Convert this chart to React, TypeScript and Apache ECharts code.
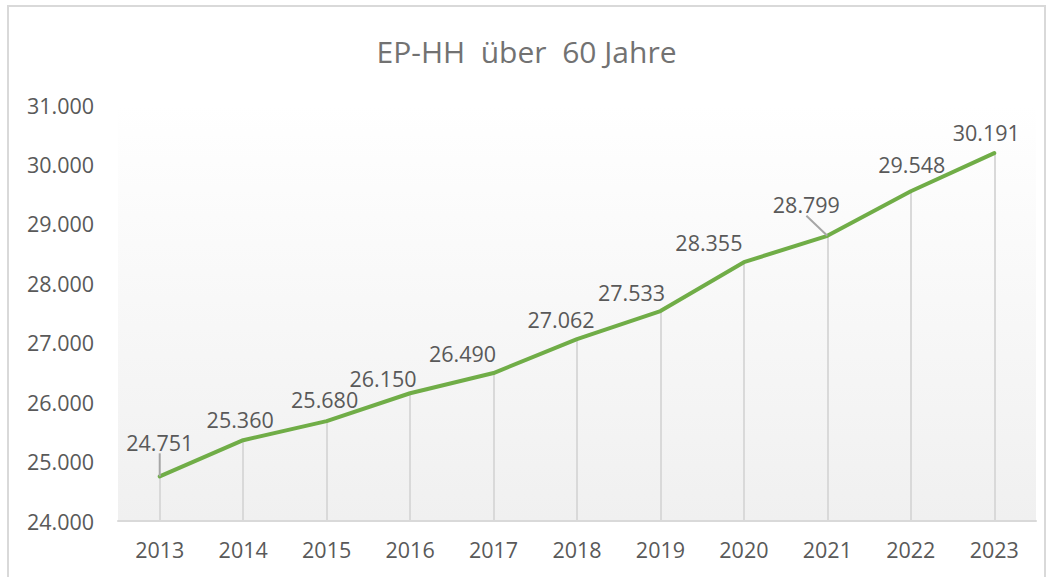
import React, { useEffect, useRef } from "react";
import * as echarts from "echarts";

const years = ["2013", "2014", "2015", "2016", "2017", "2018", "2019", "2020", "2021", "2022", "2023"];
const values = [24751, 25360, 25680, 26150, 26490, 27062, 27533, 28355, 28799, 29548, 30191];
const yTicks = { min: 24000, max: 31000, interval: 1000 };
// label nudges (layout only)
const labelShift: [number, number][] = [
  [0, -18], [-3, -5], [-2, -6], [-27, 1], [-31, -3], [-16, -3], [-29, -2], [-35, -4], [-21, -15], [1, -11], [-8, -5],
];
const leaderIdx = [0, 8];

const fmt = (v: number) => {
  const s = Math.round(v).toString();
  return s.replace(/\B(?=(\d{3})+(?!\d))/g, ".");
};

const FONT = "'Open Sans', 'Noto Sans', sans-serif";

export default function App() {
  const ref = useRef<HTMLDivElement>(null);
  useEffect(() => {
    const chart = echarts.init(ref.current!, null, { renderer: "svg" });
    chart.setOption({
      animation: false,
      backgroundColor: "#ffffff",
      title: {
        text: "EP-HH  über  60 Jahre",
        left: "center",
        top: 31,
        textStyle: { fontFamily: FONT, fontSize: 30, fontWeight: "normal", color: "#727272" },
      },
      graphic: [
        {
          type: "rect",
          shape: { x: 8, y: 6, width: 1037, height: 580 },
          style: { fill: "none", stroke: "#d9d9d9", lineWidth: 2 },
          silent: true,
        },
      ],
      grid: {
        left: 118,
        right: 17,
        top: 105,
        bottom: 56,
        show: true,
        borderWidth: 0,
        backgroundColor: new echarts.graphic.LinearGradient(0, 0, 0, 1, [
          { offset: 0, color: "#ffffff" },
          { offset: 1, color: "#f0f0f0" },
        ]),
      },
      xAxis: {
        type: "category",
        data: years,
        boundaryGap: true,
        axisLine: { show: true, lineStyle: { color: "#d9d9d9", width: 2 } },
        axisTick: { show: false },
        axisLabel: { fontFamily: FONT, fontSize: 21.5, color: "#595959", margin: 17 },
        splitLine: { show: false },
      },
      yAxis: {
        type: "value",
        min: yTicks.min,
        max: yTicks.max,
        interval: yTicks.interval,
        axisLine: { show: false },
        axisTick: { show: false },
        splitLine: { show: false },
        axisLabel: {
          fontFamily: FONT,
          fontSize: 21.5,
          color: "#595959",
          align: "left",
          margin: 91,
          formatter: (v: number) => fmt(v),
        },
      },
      series: [
        {
          type: "line",
          data: values.map((v, i) => ({
            value: v,
            labelLine: { show: leaderIdx.includes(i) },
          })),
          showSymbol: true,
          symbol: "circle",
          symbolSize: 0.1,
          lineStyle: { color: "#70ad47", width: 4, cap: "round", join: "round" },
          itemStyle: { color: "#70ad47" },
          z: 3,
          label: {
            show: true,
            position: "top",
            distance: 5,
            fontFamily: FONT,
            fontSize: 21.5,
            color: "#595959",
            formatter: (p: any) => fmt(p.value),
          },
          labelLine: { show: false, lineStyle: { color: "#a6a6a6", width: 2 } },
          labelLayout: (p: any) => ({ dx: labelShift[p.dataIndex][0], dy: labelShift[p.dataIndex][1] }),
          markLine: {
            silent: true,
            symbol: "none",
            z: 1,
            label: { show: false },
            lineStyle: { color: "#d9d9d9", width: 2, type: "solid" },
            data: values.map((v, i) => [
              { coord: [i, yTicks.min] },
              { coord: [i, v] },
            ]),
          },
        },
      ],
    });
    return () => chart.dispose();
  }, []);
  return (
    <div
      ref={ref}
      style={{ position: "absolute", left: 0, top: 0, width: 1053, height: 577 }}
    />
  );
}
